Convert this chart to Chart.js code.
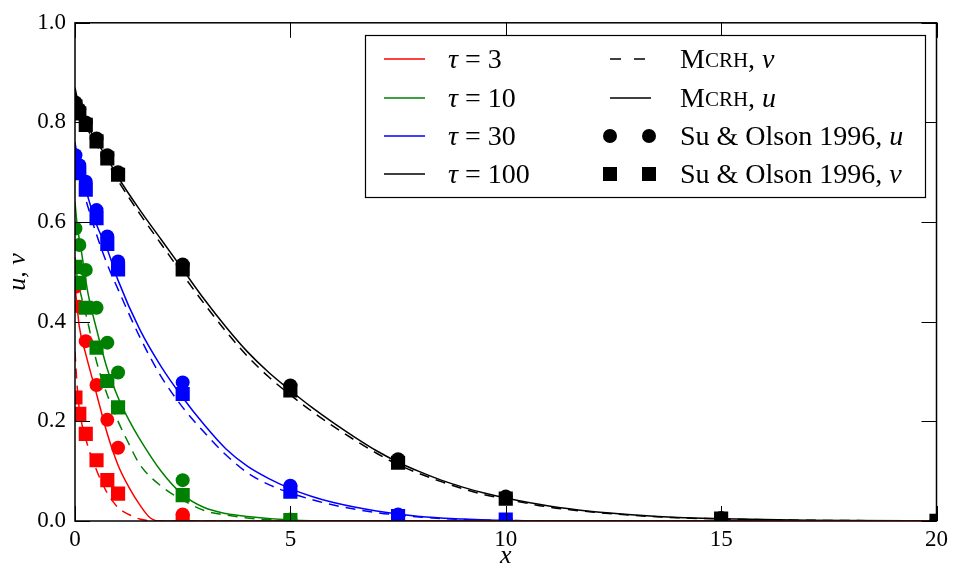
<!DOCTYPE html>
<html>
<head>
<meta charset="utf-8">
<script src="https://cdn.jsdelivr.net/npm/chart.js@4"></script>
<style>
html, body { margin: 0; padding: 0; background: #fff; }
</style>
</head>
<body>
<canvas id="chart" width="953" height="572"></canvas>
<script>
// Optical depths and colours
const taus = ['3', '10', '30', '100'];
const colors = ['#ff0000', '#008000', '#0000ff', '#000000'];

// Su & Olson 1996 benchmark points
const suX = [0.01, 0.1, 0.25, 0.5, 0.75, 1, 2.5, 5, 7.5, 10, 15, 20];
const suU3 = [0.470, 0.430, 0.361, 0.273, 0.203, 0.147, 0.013];
const suV3 = [0.248, 0.215, 0.175, 0.122, 0.082, 0.055, 0.001];
const suU10 = [0.587, 0.554, 0.504, 0.428, 0.358, 0.298, 0.082, 0.003];
const suV10 = [0.510, 0.478, 0.428, 0.348, 0.281, 0.228, 0.052, 0.002];
const suU30 = [0.734, 0.714, 0.681, 0.624, 0.571, 0.521, 0.278, 0.071, 0.013, 0.001];
const suV30 = [0.710, 0.698, 0.665, 0.608, 0.556, 0.505, 0.255, 0.059, 0.010, 0.003];
const suU100 = [0.840, 0.826, 0.800, 0.768, 0.734, 0.700, 0.515, 0.272, 0.124, 0.049, 0.006, 0.0004];
const suV100 = [0.832, 0.818, 0.795, 0.762, 0.728, 0.695, 0.505, 0.262, 0.117, 0.045, 0.005, 0.0003];

// MCRH curves
const mX3 = [0, 0.05, 0.1, 0.25, 0.5, 0.75, 1.0, 1.25, 1.5, 1.75, 2.0, 20];
const mU3 = [0.47, 0.43, 0.39, 0.335, 0.255, 0.175, 0.112, 0.068, 0.033, 0.006, 0, 0];
const mV3 = [0.34, 0.27, 0.225, 0.165, 0.102, 0.056, 0.027, 0.013, 0.004, 0.0005, 0, 0];

const mX10 = [0, 0.05, 0.15, 0.3, 0.5, 0.75, 1.0, 1.25, 1.5, 2.0, 2.5, 3.0, 3.5, 4.0, 5.0, 6.0, 20];
const mU10 = [0.64, 0.595, 0.54, 0.458, 0.385, 0.305, 0.248, 0.203, 0.165, 0.1, 0.053, 0.027, 0.015, 0.009, 0.002, 0, 0];
const mV10 = [0.53, 0.49, 0.45, 0.398, 0.32, 0.253, 0.2, 0.155, 0.114, 0.07, 0.042, 0.021, 0.012, 0.006, 0.001, 0, 0];

const mX30 = [0, 0.1, 0.25, 0.5, 0.75, 1.0, 1.5, 2.0, 2.5, 3.0, 3.5, 4.0, 4.5, 5.0, 5.5, 6.0, 7.0, 8.0, 9.0, 10.0, 12.0, 20];
const mU30 = [0.76, 0.71, 0.665, 0.595, 0.545, 0.483, 0.385, 0.31, 0.248, 0.193, 0.145, 0.11, 0.085, 0.065, 0.049, 0.037, 0.02, 0.009, 0.004, 0.001, 0, 0];
const mV30 = [0.74, 0.69, 0.645, 0.575, 0.515, 0.465, 0.37, 0.29, 0.228, 0.178, 0.133, 0.097, 0.073, 0.056, 0.043, 0.032, 0.017, 0.008, 0.003, 0.001, 0, 0];

const mX100 = [0, 0.1, 0.25, 0.5, 0.75, 1.0, 1.5, 2.0, 2.5, 3.0, 3.5, 4.0, 4.5, 5.0, 5.5, 6.0, 6.5, 7.0, 7.5, 8.0, 8.5, 9.0, 9.5, 10, 11, 12, 13, 14, 15, 16, 17, 18, 20];
const mU100 = [0.87, 0.83, 0.80, 0.762, 0.728, 0.69, 0.625, 0.565, 0.505, 0.445, 0.39, 0.34, 0.298, 0.262, 0.228, 0.197, 0.168, 0.141, 0.118, 0.099, 0.082, 0.068, 0.056, 0.046, 0.030, 0.019, 0.012, 0.007, 0.0045, 0.0028, 0.0017, 0.001, 0.0004];
const mV100 = [0.86, 0.822, 0.793, 0.755, 0.72, 0.683, 0.617, 0.556, 0.495, 0.436, 0.381, 0.331, 0.289, 0.253, 0.22, 0.19, 0.162, 0.136, 0.113, 0.095, 0.079, 0.065, 0.053, 0.044, 0.028, 0.018, 0.011, 0.0065, 0.004, 0.0025, 0.0015, 0.0009, 0.0003];

const xTicks = [0, 5, 10, 15, 20];
const yTicks = [0, 0.2, 0.4, 0.6, 0.8, 1.0];

const curves = [[mX3, mU3, mV3], [mX10, mU10, mV10], [mX30, mU30, mV30], [mX100, mU100, mV100]];
const bench = [[suU3, suV3], [suU10, suV10], [suU30, suV30], [suU100, suV100]];

const pts = (xs, ys) => ys.map((y, i) => ({ x: xs[i], y }));

const datasets = [];
curves.forEach(([xs, u, v], i) => {
  datasets.push({ data: pts(xs, v), showLine: true, borderColor: colors[i], borderWidth: 1.5,
    borderDash: [10, 7], pointRadius: 0, cubicInterpolationMode: 'monotone', order: 3 });
  datasets.push({ data: pts(xs, u), showLine: true, borderColor: colors[i], borderWidth: 1.5,
    pointRadius: 0, cubicInterpolationMode: 'monotone', order: 3 });
});
bench.forEach(([u, v], i) => {
  datasets.push({ data: pts(suX, u), pointStyle: 'circle', pointRadius: 7, backgroundColor: colors[i],
    borderColor: colors[i], borderWidth: 0, order: 2 });
  datasets.push({ data: pts(suX, v), pointStyle: 'rect', pointRadius: 10, backgroundColor: colors[i],
    borderColor: colors[i], borderWidth: 0, order: 1 });
});

const SERIF = '"Liberation Serif", "DejaVu Serif", serif';

// frame, inward ticks, axis titles and legend
const decor = {
  id: 'decor',
  afterDatasetsDraw(chart) {
    const { ctx, chartArea: a, scales: { x, y } } = chart;
    ctx.save();
    ctx.strokeStyle = '#000';
    ctx.lineWidth = 1;
    ctx.beginPath();
    xTicks.forEach(t => {
      const px = Math.round(x.getPixelForValue(t)) + 0.5;
      ctx.moveTo(px, a.bottom); ctx.lineTo(px, a.bottom - 15);
      ctx.moveTo(px, a.top); ctx.lineTo(px, a.top + 15);
    });
    yTicks.forEach(t => {
      const py = Math.round(y.getPixelForValue(t)) + 0.5;
      ctx.moveTo(a.left, py); ctx.lineTo(a.left + 15, py);
      ctx.moveTo(a.right, py); ctx.lineTo(a.right - 15, py);
    });
    ctx.stroke();
    ctx.lineWidth = 1.5;
    ctx.strokeRect(a.left, a.top, a.right - a.left, a.bottom - a.top);

    // axis titles
    ctx.fillStyle = '#000';
    ctx.textAlign = 'center';
    ctx.textBaseline = 'middle';
    ctx.font = 'italic 26px ' + SERIF;
    ctx.fillText('x', (a.left + a.right) / 2, 556);
    ctx.save();
    ctx.translate(18, (a.top + a.bottom) / 2);
    ctx.rotate(-Math.PI / 2);
    ctx.fillText('u, v', 0, 0);
    ctx.restore();

    // legend
    const bx0 = 365, by0 = 35, bx1 = 925, by1 = 197;
    const rows = [59, 98, 136, 174];
    ctx.fillStyle = '#fff';
    ctx.fillRect(bx0, by0, bx1 - bx0, by1 - by0);
    ctx.lineWidth = 1.2;
    ctx.strokeStyle = '#000';
    ctx.strokeRect(bx0 + 0.5, by0 + 0.5, bx1 - bx0, by1 - by0);
    ctx.textAlign = 'left';
    ctx.textBaseline = 'middle';
    const seg = (parts, x0, yy) => {
      let cx = x0;
      parts.forEach(([txt, font]) => {
        ctx.font = font;
        ctx.fillText(txt, cx, yy);
        cx += ctx.measureText(txt).width;
      });
    };
    const big = '28px ' + SERIF, ital = 'italic 28px ' + SERIF, small = '21px ' + SERIF;
    taus.forEach((t, i) => {
      const yy = rows[i];
      ctx.strokeStyle = colors[i];
      ctx.lineWidth = 1.5;
      ctx.setLineDash([]);
      ctx.beginPath(); ctx.moveTo(384, yy); ctx.lineTo(425, yy); ctx.stroke();
      ctx.fillStyle = '#000';
      seg([['τ', ital], [' = ' + t, big]], 448, yy + 2);
    });
    ctx.strokeStyle = '#000';
    ctx.fillStyle = '#000';
    ctx.setLineDash([11, 13]);
    ctx.beginPath(); ctx.moveTo(610, rows[0]); ctx.lineTo(651, rows[0]); ctx.stroke();
    ctx.setLineDash([]);
    ctx.beginPath(); ctx.moveTo(610, rows[1]); ctx.lineTo(651, rows[1]); ctx.stroke();
    [610, 649].forEach(cx => {
      ctx.beginPath(); ctx.arc(cx, rows[2], 7, 0, Math.PI * 2); ctx.fill();
      ctx.fillRect(cx - 7, rows[3] - 7, 14, 14);
    });
    seg([['M', big], ['CRH', small], [', ', big], ['v', ital]], 680, rows[0] + 2);
    seg([['M', big], ['CRH', small], [', ', big], ['u', ital]], 680, rows[1] + 2);
    seg([['Su & Olson 1996, ', big], ['u', ital]], 680, rows[2] + 2);
    seg([['Su & Olson 1996, ', big], ['v', ital]], 680, rows[3] + 2);
    ctx.restore();
  }
};

new Chart(document.getElementById('chart').getContext('2d'), {
  type: 'scatter',
  data: { datasets },
  options: {
    responsive: false,
    animation: false,
    events: [],
    layout: { padding: { left: 0, right: 16, top: 20, bottom: 0 } },
    plugins: { legend: { display: false }, tooltip: { enabled: false } },
    scales: {
      x: {
        type: 'linear', min: 0, max: 20,
        afterFit: s => { s.height = 51; },
        afterBuildTicks: s => { s.ticks = xTicks.map(v => ({ value: v })); },
        grid: { display: false, drawTicks: false },
        border: { display: false },
        ticks: { color: '#000', padding: 5, font: { family: SERIF, size: 23 } }
      },
      y: {
        type: 'linear', min: 0, max: 1,
        afterFit: s => { s.width = 75; },
        afterBuildTicks: s => { s.ticks = yTicks.map(v => ({ value: v })); },
        grid: { display: false, drawTicks: false },
        border: { display: false },
        ticks: { color: '#000', padding: 9, font: { family: SERIF, size: 23 },
          callback: v => v.toFixed(1) }
      }
    }
  },
  plugins: [decor]
});
</script>
</body>
</html>
